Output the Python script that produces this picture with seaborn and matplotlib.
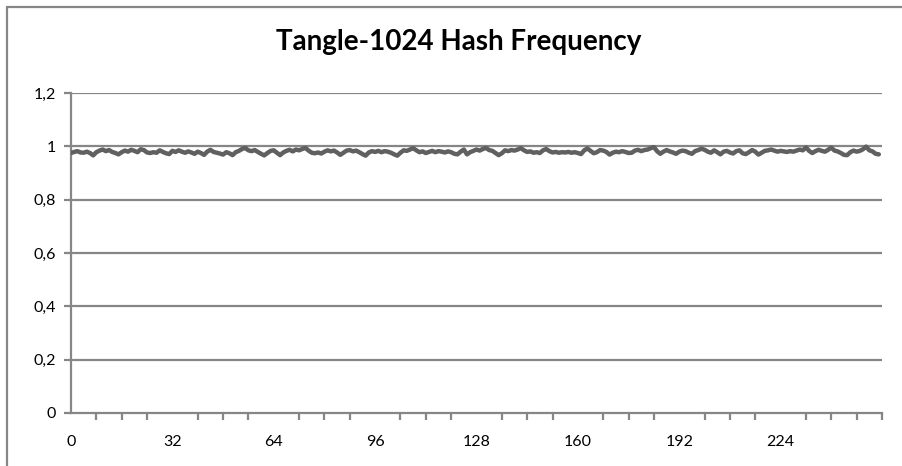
import matplotlib
matplotlib.use("Agg")
import matplotlib.pyplot as plt
import matplotlib.lines as mlines
import numpy as np
import pandas as pd
import seaborn as sns

title = "Tangle-1024 Hash Frequency"
frequency = [
    0.975, 0.979, 0.982, 0.977, 0.976, 0.980, 0.975, 0.966, 0.978, 0.984,
    0.988, 0.982, 0.986, 0.979, 0.975, 0.970, 0.978, 0.984, 0.980, 0.987,
    0.983, 0.978, 0.989, 0.986, 0.977, 0.975, 0.978, 0.976, 0.985, 0.979,
    0.974, 0.971, 0.983, 0.979, 0.985, 0.980, 0.976, 0.981, 0.977, 0.972,
    0.980, 0.975, 0.968, 0.980, 0.987, 0.979, 0.976, 0.973, 0.969, 0.978,
    0.974, 0.967, 0.978, 0.983, 0.990, 0.994, 0.985, 0.982, 0.986, 0.979,
    0.972, 0.966, 0.975, 0.983, 0.985, 0.976, 0.967, 0.977, 0.983, 0.987,
    0.981, 0.988, 0.985, 0.990, 0.994, 0.984, 0.976, 0.974, 0.977, 0.973,
    0.980, 0.985, 0.981, 0.984, 0.977, 0.968, 0.976, 0.984, 0.986, 0.981,
    0.984, 0.978, 0.971, 0.965, 0.977, 0.982, 0.979, 0.983, 0.978, 0.982,
    0.980, 0.976, 0.970, 0.965, 0.976, 0.985, 0.983, 0.988, 0.993, 0.985,
    0.978, 0.981, 0.975, 0.979, 0.983, 0.978, 0.982, 0.980, 0.977, 0.981,
    0.978, 0.972, 0.970, 0.980, 0.988, 0.970, 0.978, 0.983, 0.988, 0.984,
    0.990, 0.994, 0.986, 0.983, 0.975, 0.967, 0.974, 0.985, 0.982, 0.986,
    0.984, 0.988, 0.993, 0.985, 0.979, 0.981, 0.976, 0.978, 0.975, 0.985,
    0.990, 0.982, 0.977, 0.979, 0.976, 0.978, 0.977, 0.979, 0.976, 0.978,
    0.975, 0.971, 0.985, 0.992, 0.983, 0.974, 0.978, 0.986, 0.984, 0.979,
    0.969, 0.976, 0.980, 0.978, 0.982, 0.979, 0.975, 0.976, 0.984, 0.987,
    0.982, 0.986, 0.988, 0.993, 0.997, 0.982, 0.972, 0.980, 0.986, 0.981,
    0.977, 0.972, 0.980, 0.984, 0.982, 0.976, 0.972, 0.982, 0.986, 0.991,
    0.987, 0.980, 0.976, 0.985, 0.978, 0.970, 0.980, 0.983, 0.977, 0.973,
    0.982, 0.985, 0.974, 0.971, 0.978, 0.986, 0.980, 0.969, 0.976, 0.983,
    0.985, 0.988, 0.984, 0.980, 0.983, 0.981, 0.979, 0.982, 0.980, 0.984,
    0.988, 0.985, 0.996, 0.983, 0.975, 0.982, 0.987, 0.983, 0.980, 0.987,
    0.995, 0.984, 0.981, 0.975, 0.968, 0.967, 0.978, 0.984, 0.980, 0.983,
    0.989, 0.999, 0.985, 0.981, 0.972, 0.970,
]
hash_index = list(range(len(frequency)))
y_ticks = [0, 0.2, 0.4, 0.6, 0.8, 1.0, 1.2]
y_tick_labels = ["0", "0,2", "0,4", "0,6", "0,8", "1", "1,2"]
x_label_ticks = [0, 32, 64, 96, 128, 160, 192, 224]
x_minor_ticks = list(range(0, 257, 8))

sns.set_theme(style="white")
plt.rcParams["font.family"] = ["Lato", "DejaVu Sans"]

df = pd.DataFrame({"index": hash_index, "frequency": frequency})

fig = plt.figure(figsize=(9.02, 4.66), dpi=100)
ax = fig.add_axes([71 / 902, 1 - 413 / 466, 811 / 902, 320 / 466])

grid_col = "#868686"
for yv in y_ticks[1:]:
    ax.axhline(yv, color=grid_col, lw=1.6, zorder=1)

sns.lineplot(data=df, x="index", y="frequency", ax=ax, color="#606060",
             lw=3.2, zorder=3)

ax.set_xlim(0, 256)
ax.set_ylim(0, 1.2)
ax.set_xlabel("")
ax.set_ylabel("")
ax.set_yticks(y_ticks)
ax.set_yticklabels(y_tick_labels)
ax.set_xticks(x_minor_ticks, minor=True)
ax.set_xticks(x_label_ticks)
ax.set_xticklabels([str(v) for v in x_label_ticks])

for side in ["top", "right"]:
    ax.spines[side].set_visible(False)
for side in ["left", "bottom"]:
    ax.spines[side].set_color(grid_col)
    ax.spines[side].set_linewidth(1.6)

ax.tick_params(axis="y", which="major", left=True, length=5, width=1.6,
               color=grid_col, labelsize=11.5, pad=6, labelcolor="black")
ax.tick_params(axis="x", which="major", bottom=False, labelsize=11.5, pad=10,
               labelcolor="black")
ax.tick_params(axis="x", which="minor", bottom=True, length=5, width=1.6,
               color=grid_col)

fig.text(459 / 902, 1 - 42 / 466, title, ha="center", va="center",
         fontsize=20, fontweight="bold", color="black")

# outer chart frame (left and top edges visible)
fig.add_artist(mlines.Line2D([7 / 902, 7 / 902], [0, 1 - 7 / 466],
                             transform=fig.transFigure, color=grid_col, lw=1.6))
fig.add_artist(mlines.Line2D([7 / 902, 1], [1 - 7 / 466, 1 - 7 / 466],
                             transform=fig.transFigure, color=grid_col, lw=1.6))

fig.savefig("out.png", dpi=100)
